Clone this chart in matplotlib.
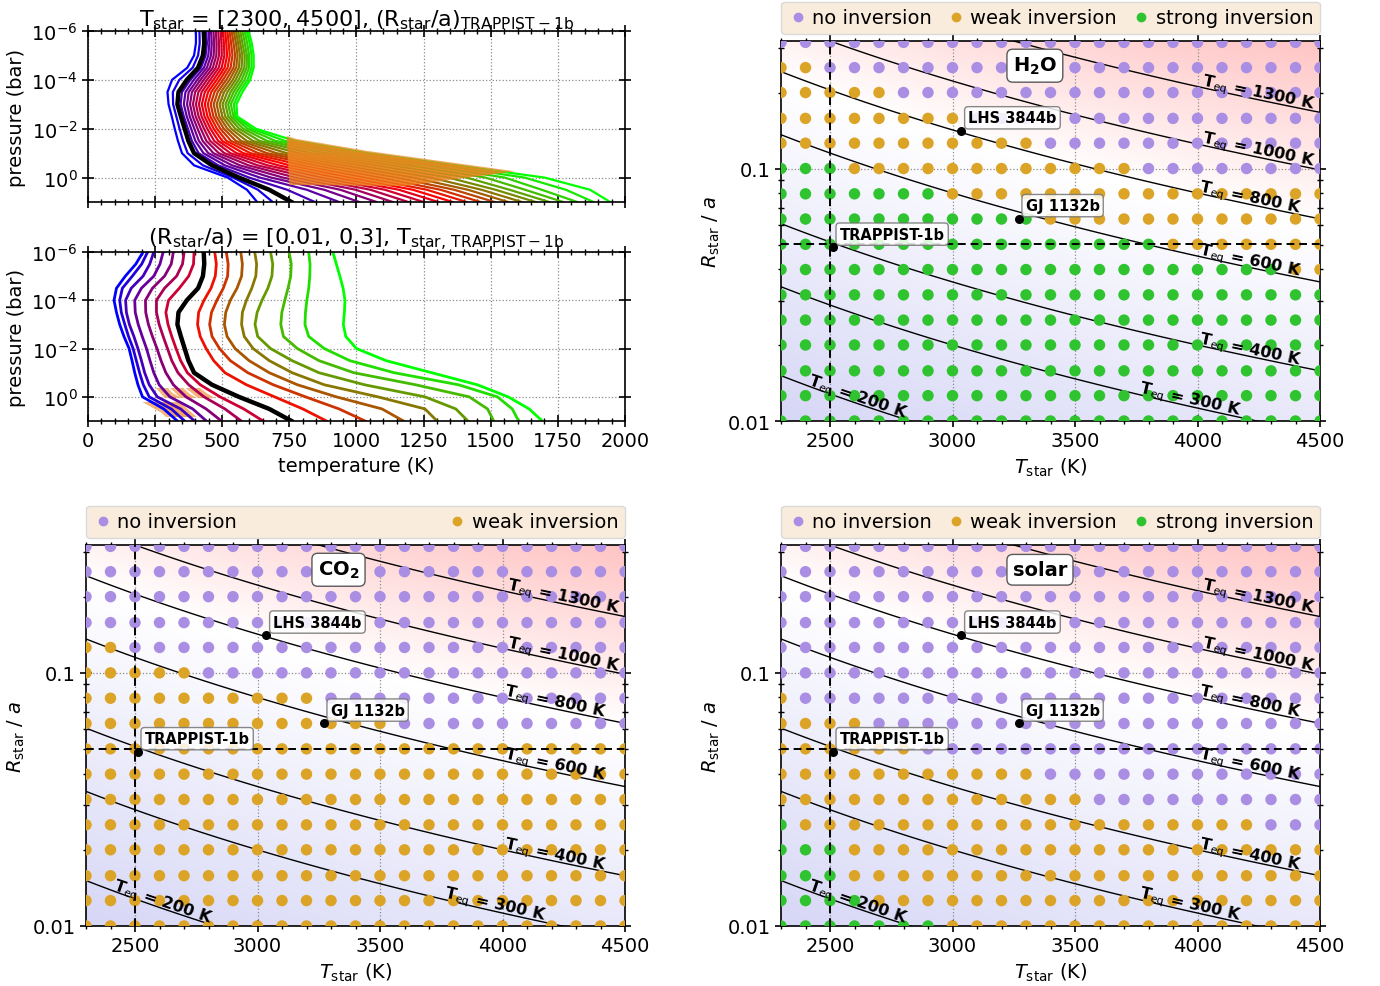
import numpy as np
import matplotlib
matplotlib.use("Agg")
import matplotlib.pyplot as plt
from matplotlib.lines import Line2D
from matplotlib.patches import Polygon, Rectangle
from matplotlib.colors import LinearSegmentedColormap, TwoSlopeNorm
from matplotlib.ticker import (MultipleLocator, AutoMinorLocator, NullLocator,
                               FixedLocator, FixedFormatter, LogLocator, NullFormatter)

plt.rcParams["font.family"] = ["DejaVu Sans"]
plt.rcParams["mathtext.fontset"] = "dejavusans"

# ---------------------------------------------------------------- data
# pressure levels of the temperature profiles (bar)
P_LEVELS = [1e-6, 3.16e-6, 1e-5, 3.16e-5, 1e-4, 3.16e-4, 1e-3, 3.16e-3,
            1e-2, 3.16e-2, 0.1, 0.316, 1.0, 3.16, 10.0]

# TRAPPIST-1b reference profile (K)
TRAPPIST_1B_PROFILE = [431, 433, 428, 410, 368, 337, 333, 346, 360, 374, 395, 462, 562, 675, 758]

# profiles for T_star = 2300 ... 4500 K at (R_star/a) of TRAPPIST-1b
TSTAR_SWEEP_PROFILES = [
    [402, 402, 395, 370, 313, 296, 300, 312, 323, 335, 350, 395, 520, 592, 630],
    [415, 416, 410, 390, 340, 316, 317, 329, 341, 354, 371, 428, 540, 633, 688],
    TRAPPIST_1B_PROFILE,
    [440, 443, 438, 421, 381, 350, 345, 357, 372, 387, 412, 485, 600, 742, 845],
    [449, 452, 448, 432, 394, 363, 357, 368, 384, 400, 430, 510, 640, 815, 935],
    [458, 461, 458, 443, 407, 375, 369, 379, 396, 413, 448, 537, 682, 880, 1010],
    [467, 470, 468, 454, 419, 387, 380, 390, 408, 427, 467, 566, 726, 940, 1075],
    [476, 479, 478, 465, 431, 399, 391, 401, 420, 441, 487, 598, 772, 997, 1135],
    [485, 488, 488, 476, 443, 411, 402, 412, 432, 455, 508, 632, 820, 1052, 1193],
    [494, 497, 498, 487, 455, 423, 413, 423, 444, 470, 530, 669, 870, 1106, 1250],
    [503, 506, 508, 498, 467, 435, 424, 434, 456, 485, 553, 709, 922, 1158, 1305],
    [511, 515, 518, 509, 479, 447, 435, 445, 468, 500, 578, 752, 976, 1210, 1358],
    [519, 524, 528, 520, 491, 459, 446, 456, 480, 516, 605, 798, 1032, 1262, 1410],
    [527, 533, 538, 531, 503, 471, 457, 467, 493, 533, 634, 847, 1090, 1313, 1462],
    [535, 542, 548, 542, 515, 483, 468, 478, 506, 551, 666, 899, 1150, 1364, 1514],
    [543, 551, 557, 552, 527, 495, 479, 489, 519, 570, 701, 954, 1212, 1415, 1565],
    [551, 559, 566, 562, 539, 507, 490, 500, 533, 591, 740, 1012, 1276, 1466, 1616],
    [559, 567, 575, 572, 550, 519, 501, 511, 548, 614, 783, 1072, 1342, 1518, 1667],
    [567, 575, 584, 582, 561, 531, 512, 522, 563, 639, 830, 1134, 1410, 1570, 1718],
    [575, 584, 592, 591, 572, 542, 522, 532, 578, 667, 882, 1198, 1480, 1628, 1770],
    [583, 593, 600, 600, 583, 553, 532, 542, 594, 698, 938, 1263, 1552, 1690, 1822],
    [591, 602, 609, 609, 594, 564, 543, 549, 610, 733, 990, 1318, 1626, 1780, 1883],
    [598, 610, 617, 617, 604, 575, 553, 556, 625, 772, 1040, 1370, 1700, 1870, 1945],
]

# profiles for (R_star/a) = 0.01 ... 0.316 at T_star of TRAPPIST-1
RSTAR_SWEEP_PROFILES = [
    [205, 178, 139, 106, 97, 106, 118, 134, 153, 164, 174, 186, 203, 282, 333],
    [222, 200, 165, 128, 118, 124, 137, 151, 168, 180, 192, 206, 228, 310, 360],
    [245, 230, 205, 161, 140, 143, 154, 171, 186, 199, 211, 228, 258, 345, 397],
    [280, 268, 245, 199, 174, 176, 187, 202, 218, 231, 245, 265, 305, 390, 441],
    [318, 310, 285, 240, 214, 215, 225, 240, 257, 272, 290, 318, 365, 440, 497],
    [358, 352, 330, 285, 255, 255, 265, 280, 296, 312, 335, 375, 432, 510, 571],
    [395, 393, 375, 340, 300, 290, 298, 312, 328, 345, 370, 418, 492, 580, 652],
    TRAPPIST_1B_PROFILE,
    [472, 478, 474, 458, 432, 412, 408, 418, 440, 468, 510, 590, 695, 800, 888],
    [515, 522, 520, 504, 480, 460, 453, 462, 490, 530, 595, 690, 810, 935, 1032],
    [569, 575, 572, 555, 530, 513, 508, 518, 548, 600, 675, 780, 925, 1095, 1175],
    [621, 628, 625, 610, 590, 575, 572, 582, 615, 675, 760, 880, 1080, 1255, 1300],
    [680, 688, 685, 670, 648, 630, 622, 632, 680, 760, 860, 1030, 1255, 1370, 1415],
    [749, 757, 755, 745, 733, 722, 718, 728, 780, 860, 990, 1220, 1420, 1488, 1511],
    [822, 827, 826, 822, 815, 810, 808, 822, 880, 975, 1140, 1380, 1525, 1580, 1604],
    [912, 925, 938, 950, 957, 955, 951, 960, 1000, 1110, 1280, 1450, 1565, 1643, 1692],
]
RSTAR_SWEEP_HIGHLIGHT_LOW = [0, 1, 2]
RSTAR_SWEEP_HIGHLIGHT_MID = [3, 4, 5]

# model grid
T_STAR = [2300, 2400, 2500, 2600, 2700, 2800, 2900, 3000, 3100, 3200, 3300, 3400,
          3500, 3600, 3700, 3800, 3900, 4000, 4100, 4200, 4300, 4400, 4500]
R_OVER_A = [0.01, 0.0126, 0.0158, 0.02, 0.0251, 0.0316, 0.0398, 0.0501,
            0.0631, 0.0794, 0.1, 0.126, 0.158, 0.2, 0.251, 0.316]

# inversion class per grid point, rows from R/a = 0.316 (top) down to 0.01,
# columns T_star 2300-2700 | 2800-3200 | 3300-3700 | 3800-4200 | 4300-4500
# n = no inversion, w = weak inversion, s = strong inversion
CLASS_H2O = [
    "nnnnn nnnnn nnnnn nnnnn nnn",
    "wwnnn nnnnn nnnnn nnnnn nnn",
    "wwwww nnnnn nnnnn nnnnn nnn",
    "wwwww wwwnn nnnnn nnnnn nnn",
    "wwwww wwwww wnnnn nnnnn nnn",
    "sssww wwwww wwwww nnnnn nnn",
    "sssss sswww wwwww wwwww www",
    "sssss sssss swwww wwwww www",
    "sssss sssss sssss swwww www",
    "sssss sssss sssss sssss sww",
    "sssss sssss sssss sssss sss",
    "sssss sssss sssss sssss sss",
    "sssss sssss sssss sssss sss",
    "sssss sssss sssss sssss sss",
    "sssss sssss sssss sssss sss",
    "sssss sssss sssss sssss sss",
]
CLASS_CO2 = [
    "nnnnn nnnnn nnnnn nnnnn nnn",
    "nnnnn nnnnn nnnnn nnnnn nnn",
    "nnnnn nnnnn nnnnn nnnnn nnn",
    "nnnnn nnnnn nnnnn nnnnn nnn",
    "wwnnn nnnnn nnnnn nnnnn nnn",
    "wwwww nnnnn nnnnn nnnnn nnn",
    "wwwww wwwww nnnnn nnnnn nnn",
    "wwwww wwwww wwwnn nnnnn nnn",
    "wwwww wwwww wwwww wwwww www",
    "wwwww wwwww wwwww wwwww www",
    "wwwww wwwww wwwww wwwww www",
    "wwwww wwwww wwwww wwwww www",
    "wwwww wwwww wwwww wwwww www",
    "wwwww wwwww wwwww wwwww www",
    "wwwww wwwww wwwww wwwww www",
    "wwwww wwwww wwwww wwwww www",
]
CLASS_SOLAR = [
    "nnnnn nnnnn nnnnn nnnnn nnn",
    "nnnnn nnnnn nnnnn nnnnn nnn",
    "nnnnn nnnnn nnnnn nnnnn nnn",
    "nnnnn nnnnn nnnnn nnnnn nnn",
    "nnnnn nnnnn nnnnn nnnnn nnn",
    "nnnnn nnnnn nnnnn nnnnn nnn",
    "wnnnn nnnnn nnnnn nnnnn nnn",
    "wwwwn nnnnn nnnnn nnnnn nnn",
    "wwwww wnnnn nnnnn nnnnn nnn",
    "wwwww wwwww wnnnn nnnnn nnn",
    "wwwww wwwww wwwnn nnnnn nnn",
    "swwww wwwww wwwww wwwww nnn",
    "sssww wwwww wwwww wwwww www",
    "sssww wwwww wwwww wwwww www",
    "ssssw wwwww wwwww wwwww www",
    "sssss sswww wwwww wwwww www",
]

CLASS_ORDER = ["n", "w", "s"]
CLASS_LABELS = {"n": "no inversion", "w": "weak inversion", "s": "strong inversion"}
CLASS_COLORS = {"n": "#aa8ee4", "w": "#dca427", "s": "#2fc42f"}

TEQ_LEVELS = [200, 300, 400, 600, 800, 1000, 1300]
TEQ_LABEL_TSTAR = [2614, 3970, 4214, 4214, 4214, 4247, 4247]

PLANET_NAMES = ["TRAPPIST-1b", "LHS 3844b", "GJ 1132b"]
PLANET_TSTAR = [2511, 3036, 3270]
PLANET_R_OVER_A = [0.0488, 0.141, 0.0633]
TRAPPIST_GRID_POINT = (2500, 0.0501)

# ---------------------------------------------------------------- layout
W, H = 1380, 987
fig = plt.figure(figsize=(W / 100, H / 100), dpi=100)


def rect(x0, y0, x1, y1):
    return [x0 / W, 1 - y1 / H, (x1 - x0) / W, (y1 - y0) / H]


ax_p1 = fig.add_axes(rect(88, 32, 625, 203))
ax_p2 = fig.add_axes(rect(88, 253, 625, 422))
ax_h2o = fig.add_axes(rect(781, 42, 1320, 422))
ax_co2 = fig.add_axes(rect(86, 546, 625, 927))
ax_sol = fig.add_axes(rect(781, 546, 1320, 927))

FS = 14


def style_common(ax):
    ax.tick_params(which="both", direction="inout", top=True, right=True,
                   labelsize=FS, colors="black")
    ax.tick_params(which="major", length=8, width=1.2)
    ax.tick_params(which="minor", length=5, width=1.0)
    ax.grid(True, which="major", ls=":", color="0.55", lw=0.9, zorder=1)
    for s in ax.spines.values():
        s.set_linewidth(1.2)


def style_profile_axes(ax):
    ax.set_yscale("log")
    ax.set_xlim(0, 2000)
    ax.set_ylim(10, 1e-6)
    ax.yaxis.set_major_locator(FixedLocator([1e-6, 1e-4, 1e-2, 1]))
    ax.yaxis.set_minor_locator(NullLocator())
    ax.xaxis.set_major_locator(MultipleLocator(250))
    ax.xaxis.set_minor_locator(AutoMinorLocator())
    style_common(ax)
    ax.set_ylabel("pressure (bar)", fontsize=FS)
    ax.set_axisbelow(True)


brg = plt.get_cmap("brg")
TITLE_FS = 16

# ---------------------------------------------------------------- panel 1
style_profile_axes(ax_p1)
n1 = len(TSTAR_SWEEP_PROFILES)
hot_band = Polygon([(740, 0.02), (1620, 0.02), (1620, 0.5), (1550, 0.63),
                    (1180, 2.2), (750, 2.0)], closed=True,
                   transform=ax_p1.transData)
for k, prof in enumerate(TSTAR_SWEEP_PROFILES):
    if prof is TRAPPIST_1B_PROFILE:
        continue
    ax_p1.plot(prof, P_LEVELS, color=brg(k / (n1 - 1)), lw=1.6, zorder=2,
               solid_joinstyle="round")
for k, prof in enumerate(TSTAR_SWEEP_PROFILES):
    if prof is TRAPPIST_1B_PROFILE:
        continue
    ln, = ax_p1.plot(prof, P_LEVELS, color="#ee8420", lw=3.2, alpha=0.7,
                     zorder=2.5, solid_joinstyle="round")
    ln.set_clip_path(hot_band)
ax_p1.plot(TRAPPIST_1B_PROFILE, P_LEVELS, color="black", lw=3.2, zorder=3)
ax_p1.tick_params(labelbottom=False)
ax_p1.set_title(r"$\mathrm{T_{star}}$ = [2300, 4500], "
                r"$\mathrm{(R_{star}/a)_{TRAPPIST-1b}}$", fontsize=TITLE_FS, pad=4)

# ---------------------------------------------------------------- panel 2
style_profile_axes(ax_p2)
n2 = len(RSTAR_SWEEP_PROFILES)
low_band = Rectangle((0, 1.6), 2000, 5.5, transform=ax_p2.transData)
mid_band = Rectangle((0, 0.45), 2000, 0.67, transform=ax_p2.transData)
for k, prof in enumerate(RSTAR_SWEEP_PROFILES):
    if k in RSTAR_SWEEP_HIGHLIGHT_LOW or k in RSTAR_SWEEP_HIGHLIGHT_MID:
        band = low_band if k in RSTAR_SWEEP_HIGHLIGHT_LOW else mid_band
        hl, = ax_p2.plot(prof, P_LEVELS, color="#f3a257", lw=6.5, alpha=0.8,
                         zorder=1.8, solid_capstyle="butt")
        hl.set_clip_path(band)
    if prof is TRAPPIST_1B_PROFILE:
        ax_p2.plot(prof, P_LEVELS, color="black", lw=3.2, zorder=3)
    else:
        ax_p2.plot(prof, P_LEVELS, color=brg(k / (n2 - 1)), lw=2.0, zorder=2,
                   solid_joinstyle="round")
ax_p2.set_xlabel("temperature (K)", fontsize=FS)
ax_p2.set_title(r"$\mathrm{(R_{star}/a)}$ = [0.01, 0.3], "
                r"$\mathrm{T_{star,\,TRAPPIST-1b}}$", fontsize=TITLE_FS, pad=4)

# ---------------------------------------------------------------- grid panels
bg_cmap = LinearSegmentedColormap.from_list("teq_bg", ["#d6d6f6", "#ffffff", "#ffc4c4"])
bg_norm = TwoSlopeNorm(vmin=np.log10(160), vcenter=np.log10(780), vmax=np.log10(1800))


def teq(tstar, r_over_a):
    return np.asarray(tstar) * np.sqrt(np.asarray(r_over_a) / 2.0)


def inversion_panel(ax, rows, tag):
    ax.set_yscale("log")
    ax.set_xlim(2300, 4500)
    ax.set_ylim(0.01, 0.32)

    tg = np.linspace(2300, 4500, 240)
    rg = np.logspace(-2.02, -0.48, 240)
    TT, RR = np.meshgrid(tg, rg)
    TEQ = teq(TT, RR)
    ax.pcolormesh(TT, RR, np.log10(TEQ), cmap=bg_cmap, norm=bg_norm,
                  shading="gouraud", zorder=0, rasterized=True)

    ax.yaxis.set_major_locator(FixedLocator([0.01, 0.1]))
    ax.yaxis.set_major_formatter(FixedFormatter(["0.01", "0.1"]))
    ax.yaxis.set_minor_locator(LogLocator(base=10, subs=np.arange(2, 10)))
    ax.yaxis.set_minor_formatter(NullFormatter())
    ax.xaxis.set_major_locator(MultipleLocator(500))
    ax.xaxis.set_minor_locator(MultipleLocator(100))
    style_common(ax)

    # Teq iso-lines
    ax.contour(TT, RR, TEQ, levels=TEQ_LEVELS, colors="black",
               linewidths=1.0, zorder=2)

    # inversion classes on the model grid
    present = []
    for cls in CLASS_ORDER:
        xs, ys = [], []
        for i, row in enumerate(rows):
            cells = row.replace(" ", "")
            r_val = R_OVER_A[len(R_OVER_A) - 1 - i]
            for j, c in enumerate(cells):
                if c == cls:
                    xs.append(T_STAR[j])
                    ys.append(r_val)
        if xs:
            present.append(cls)
            ax.scatter(xs, ys, s=68, color=CLASS_COLORS[cls], edgecolors="none",
                       zorder=3)

    # TRAPPIST-1b grid point
    ax.axvline(TRAPPIST_GRID_POINT[0], color="black", ls=(0, (4, 2.5)), lw=1.4, zorder=3.5)
    ax.axhline(TRAPPIST_GRID_POINT[1], color="black", ls=(0, (4, 2.5)), lw=1.4, zorder=3.5)

    # Teq labels along the iso-lines
    for lev, tl in zip(TEQ_LEVELS, TEQ_LABEL_TSTAR):
        r0 = 2.0 * (lev / tl) ** 2
        pa = ax.transData.transform((tl - 60, 2.0 * (lev / (tl - 60)) ** 2))
        pb = ax.transData.transform((tl + 60, 2.0 * (lev / (tl + 60)) ** 2))
        ang = np.degrees(np.arctan2(pb[1] - pa[1], pb[0] - pa[0]))
        ax.annotate(r"$\mathbf{T}_{\rm eq}$ = %d K" % lev, xy=(tl, r0),
                    xytext=(0, 5), textcoords="offset points", rotation=ang,
                    rotation_mode="anchor", ha="center", va="center",
                    fontsize=11.5, fontweight="bold", zorder=4)

    # planets
    ax.scatter(PLANET_TSTAR, PLANET_R_OVER_A, s=30, color="black", zorder=6)
    for name, tp, rp in zip(PLANET_NAMES, PLANET_TSTAR, PLANET_R_OVER_A):
        ax.annotate(name, xy=(tp, rp), xytext=(5, 4), textcoords="offset points",
                    ha="left", va="bottom", fontsize=10.5, fontweight="bold",
                    zorder=5,
                    bbox=dict(boxstyle="round,pad=0.25", fc="white", ec="0.45",
                              lw=1.0, alpha=0.85))

    # atmosphere tag
    ax.text(0.43, 0.935, tag, transform=ax.transAxes, ha="left", va="center",
            fontsize=14, fontweight="bold", zorder=6,
            bbox=dict(boxstyle="round,pad=0.3", fc="white", ec="0.35", lw=1.0))

    handles = [Line2D([], [], ls="", marker="o", ms=6, color=CLASS_COLORS[c],
                      label=CLASS_LABELS[c]) for c in present]
    ax.legend(handles=handles, loc="lower left", bbox_to_anchor=(0, 1.018, 1, 0.1),
              mode="expand", ncol=len(handles), borderaxespad=0, fontsize=FS,
              frameon=True, fancybox=True, facecolor="#f9ecdc", edgecolor="0.85",
              framealpha=1, handletextpad=0.25, handlelength=1.0, borderpad=0.35)

    ax.set_xlabel(r"$T_{\rm star}$ (K)", fontsize=FS)
    ax.set_ylabel(r"$R_{\rm star}$ / $a$", fontsize=FS)


inversion_panel(ax_h2o, CLASS_H2O, r"H$_{\mathbf{2}}$O")
inversion_panel(ax_co2, CLASS_CO2, r"CO$_{\mathbf{2}}$")
inversion_panel(ax_sol, CLASS_SOLAR, "solar")

fig.savefig("out.png", dpi=100)
